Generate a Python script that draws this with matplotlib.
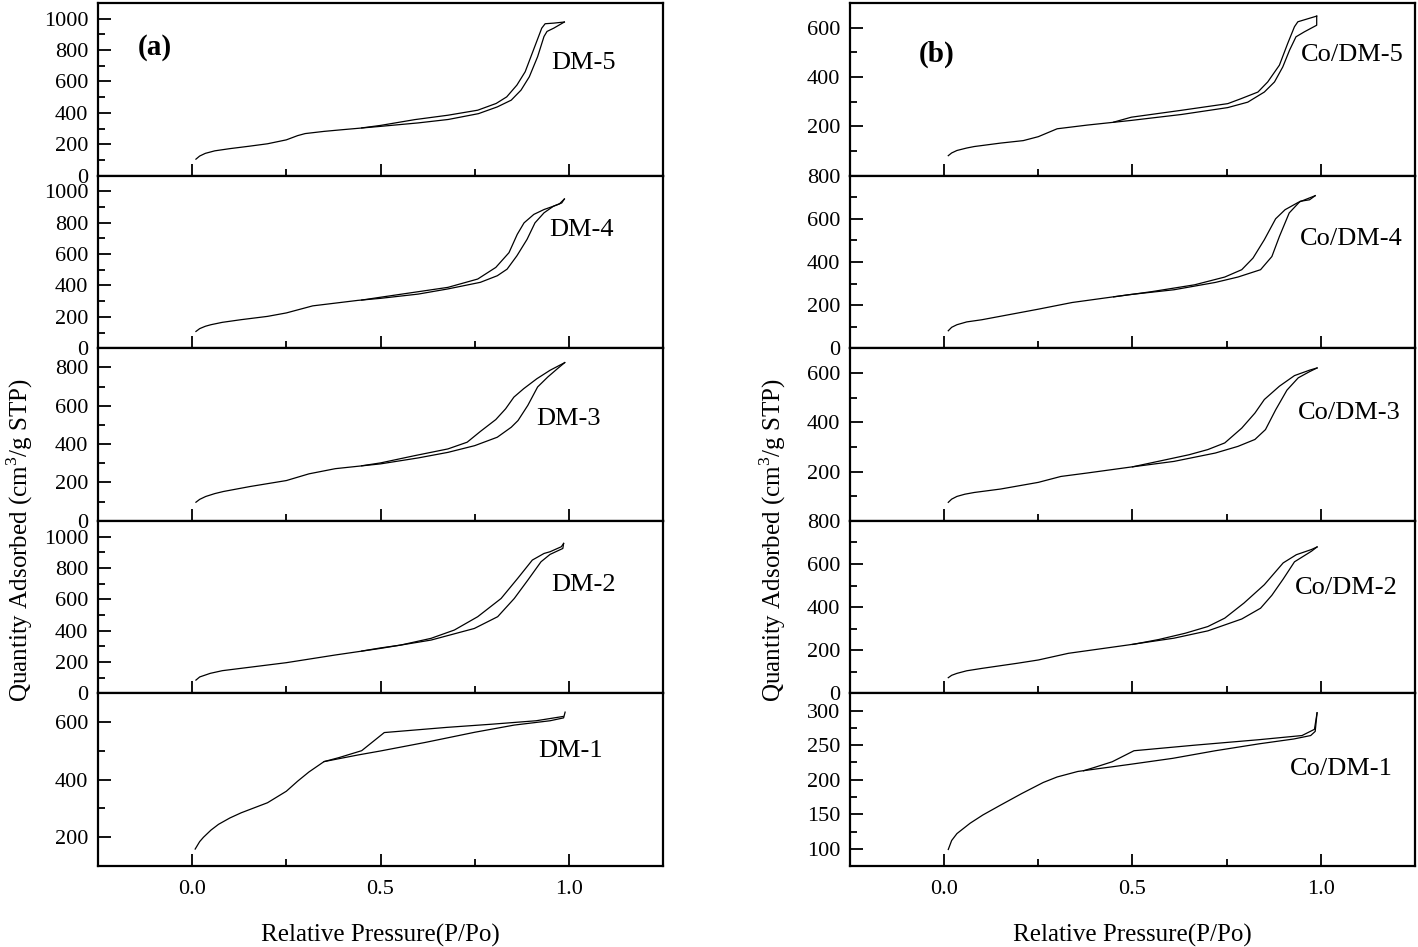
import matplotlib
matplotlib.use("Agg")
import matplotlib.pyplot as plt

plt.rcParams['font.family'] = ['Liberation Serif', 'DejaVu Serif']
plt.rcParams['mathtext.fontset'] = 'custom'
plt.rcParams['mathtext.rm'] = 'Liberation Serif'

# ---- data (P/Po, cm3/g STP) ----
# panel (a)
dm5_ads_x = [0.01, 0.02, 0.035, 0.06, 0.10, 0.15, 0.20, 0.25, 0.28, 0.30, 0.35, 0.40, 0.50, 0.60, 0.68, 0.76, 0.81, 0.847, 0.873, 0.895, 0.917, 0.934, 0.942, 0.96, 0.988]
dm5_ads_y = [105, 125, 142, 158, 172, 187, 203, 228, 255, 268, 282, 293, 314, 336, 358, 395, 438, 481, 545, 630, 758, 887, 919, 940, 979]
dm5_des_x = [0.988, 0.96, 0.937, 0.928, 0.906, 0.884, 0.862, 0.835, 0.807, 0.758, 0.679, 0.591, 0.50, 0.45]
dm5_des_y = [979, 972, 968, 940, 801, 662, 577, 502, 460, 417, 385, 357, 320, 304]

dm4_ads_x = [0.01, 0.02, 0.035, 0.05, 0.08, 0.13, 0.20, 0.25, 0.32, 0.44, 0.50, 0.60, 0.679, 0.765, 0.81, 0.836, 0.862, 0.889, 0.91, 0.934, 0.959, 0.975, 0.988]
dm4_ads_y = [107, 125, 140, 150, 165, 182, 203, 225, 270, 305, 318, 345, 378, 420, 462, 504, 589, 694, 799, 863, 905, 920, 951]
dm4_des_x = [0.988, 0.981, 0.959, 0.934, 0.907, 0.881, 0.863, 0.841, 0.806, 0.758, 0.679, 0.50, 0.45]
dm4_des_y = [951, 926, 905, 884, 853, 799, 726, 609, 515, 441, 388, 325, 307]

dm3_ads_x = [0.01, 0.02, 0.036, 0.06, 0.083, 0.154, 0.25, 0.31, 0.38, 0.50, 0.60, 0.679, 0.75, 0.81, 0.847, 0.865, 0.891, 0.917, 0.944, 0.97, 0.989]
dm3_ads_y = [97, 112, 127, 142, 153, 179, 210, 245, 272, 297, 328, 357, 392, 436, 488, 523, 602, 698, 750, 794, 825]
dm3_des_x = [0.989, 0.95, 0.915, 0.88, 0.854, 0.832, 0.806, 0.765, 0.73, 0.679, 0.591, 0.50, 0.45]
dm3_des_y = [825, 785, 741, 689, 645, 584, 528, 466, 410, 375, 340, 302, 287]

dm2_ads_x = [0.01, 0.02, 0.048, 0.08, 0.13, 0.25, 0.38, 0.50, 0.634, 0.749, 0.811, 0.855, 0.891, 0.926, 0.95, 0.984, 0.986]
dm2_ads_y = [85, 105, 128, 145, 160, 196, 245, 287, 340, 414, 489, 605, 722, 839, 886, 924, 956]
dm2_des_x = [0.986, 0.98, 0.95, 0.934, 0.903, 0.864, 0.82, 0.758, 0.696, 0.634, 0.553, 0.50, 0.45]
dm2_des_y = [956, 935, 903, 892, 850, 733, 605, 489, 404, 351, 308, 290, 270]

dm1_ads_x = [0.008, 0.02, 0.03, 0.05, 0.07, 0.10, 0.13, 0.16, 0.20, 0.25, 0.28, 0.31, 0.35, 0.44, 0.50, 0.62, 0.75, 0.855, 0.95, 0.986, 0.99]
dm1_ads_y = [159, 185, 200, 225, 245, 267, 285, 300, 320, 360, 395, 427, 463, 486, 500, 530, 565, 590, 605, 615, 635]
dm1_des_x = [0.985, 0.913, 0.795, 0.676, 0.51, 0.45, 0.39, 0.35]
dm1_des_y = [620, 605, 593, 582, 564, 501, 477, 463]

# panel (b)
co5_ads_x = [0.011, 0.02, 0.034, 0.06, 0.08, 0.15, 0.21, 0.25, 0.30, 0.38, 0.497, 0.63, 0.753, 0.806, 0.85, 0.877, 0.899, 0.917, 0.934, 0.956, 0.989, 0.989]
co5_ads_y = [81, 92, 102, 112, 118, 132, 142, 158, 190, 205, 224, 248, 276, 298, 339, 380, 441, 509, 563, 583, 610, 647]
co5_des_x = [0.989, 0.939, 0.93, 0.912, 0.89, 0.859, 0.833, 0.788, 0.753, 0.63, 0.497, 0.45]
co5_des_y = [647, 624, 604, 536, 448, 380, 339, 312, 292, 265, 237, 217]

co4_ads_x = [0.011, 0.02, 0.034, 0.06, 0.10, 0.195, 0.25, 0.34, 0.49, 0.61, 0.72, 0.78, 0.84, 0.87, 0.89, 0.916, 0.945, 0.97, 0.985]
co4_ads_y = [81, 97, 109, 122, 132, 163, 181, 212, 248, 271, 305, 330, 364, 425, 518, 627, 681, 688, 707]
co4_des_x = [0.985, 0.94, 0.905, 0.88, 0.85, 0.82, 0.79, 0.745, 0.665, 0.55, 0.45]
co4_des_y = [707, 676, 642, 600, 503, 418, 364, 330, 294, 262, 238]

co3_ads_x = [0.011, 0.02, 0.034, 0.055, 0.08, 0.15, 0.25, 0.31, 0.38, 0.49, 0.61, 0.72, 0.78, 0.825, 0.853, 0.88, 0.91, 0.94, 0.97, 0.99]
co3_ads_y = [75, 88, 99, 108, 115, 129, 156, 180, 194, 217, 241, 275, 302, 330, 370, 450, 530, 580, 605, 620]
co3_des_x = [0.99, 0.97, 0.93, 0.89, 0.85, 0.825, 0.79, 0.745, 0.70, 0.65, 0.58, 0.50]
co3_des_y = [620, 611, 589, 546, 492, 437, 376, 316, 289, 268, 245, 219]

co2_ads_x = [0.011, 0.02, 0.034, 0.06, 0.10, 0.195, 0.25, 0.33, 0.49, 0.61, 0.70, 0.79, 0.84, 0.87, 0.90, 0.93, 0.975, 0.99]
co2_ads_y = [73, 84, 93, 105, 116, 140, 155, 186, 225, 256, 290, 345, 395, 455, 530, 610, 659, 679]
co2_des_x = [0.99, 0.975, 0.935, 0.90, 0.85, 0.796, 0.745, 0.70, 0.64, 0.57, 0.50]
co2_des_y = [679, 667, 643, 605, 504, 419, 349, 310, 279, 250, 227]

co1_ads_x = [0.011, 0.02, 0.034, 0.069, 0.103, 0.149, 0.206, 0.263, 0.30, 0.355, 0.49, 0.607, 0.72, 0.836, 0.928, 0.973, 0.985, 0.99]
co1_ads_y = [99, 112, 122, 137, 149, 163, 180, 196, 204, 212, 222, 231, 242, 252, 259, 264, 270, 297]
co1_des_x = [0.99, 0.983, 0.95, 0.836, 0.664, 0.504, 0.446, 0.40, 0.37]
co1_des_y = [297, 273, 264, 258, 250, 242, 226, 218, 213]

names_a = ['DM-5', 'DM-4', 'DM-3', 'DM-2', 'DM-1']
names_b = ['Co/DM-5', 'Co/DM-4', 'Co/DM-3', 'Co/DM-2', 'Co/DM-1']
curves_a = [(dm5_ads_x, dm5_ads_y, dm5_des_x, dm5_des_y),
            (dm4_ads_x, dm4_ads_y, dm4_des_x, dm4_des_y),
            (dm3_ads_x, dm3_ads_y, dm3_des_x, dm3_des_y),
            (dm2_ads_x, dm2_ads_y, dm2_des_x, dm2_des_y),
            (dm1_ads_x, dm1_ads_y, dm1_des_x, dm1_des_y)]
curves_b = [(co5_ads_x, co5_ads_y, co5_des_x, co5_des_y),
            (co4_ads_x, co4_ads_y, co4_des_x, co4_des_y),
            (co3_ads_x, co3_ads_y, co3_des_x, co3_des_y),
            (co2_ads_x, co2_ads_y, co2_des_x, co2_des_y),
            (co1_ads_x, co1_ads_y, co1_des_x, co1_des_y)]

# y ranges, major ticks, tick labels, minor ticks
ylims_a = [(0, 1100), (0, 1100), (0, 900), (0, 1100), (100, 700)]
yticks_a = [[0, 200, 400, 600, 800, 1000], [0, 200, 400, 600, 800, 1000],
            [0, 200, 400, 600, 800], [0, 200, 400, 600, 800, 1000], [200, 400, 600]]
ylabels_a = [[str(t) for t in tk] for tk in yticks_a]
yminor_a = [[100, 300, 500, 700, 900], [100, 300, 500, 700, 900],
            [100, 300, 500, 700], [100, 300, 500, 700, 900], [300, 500]]

ylims_b = [(0, 700), (0, 800), (0, 700), (0, 800), (75, 325)]
yticks_b = [[0, 200, 400, 600], [0, 200, 400, 600, 800], [0, 200, 400, 600],
            [0, 200, 400, 600, 800], [100, 150, 200, 250, 300]]
ylabels_b = [['', '200', '400', '600'], ['0', '200', '400', '600', '800'],
             ['', '200', '400', '600'], ['0', '200', '400', '600', '800'],
             ['100', '150', '200', '250', '300']]
yminor_b = [[100, 300, 500], [100, 300, 500, 700], [100, 300, 500],
            [100, 300, 500, 700], [125, 175, 225, 275]]

label_pos_a = [(0.859, 0.65), (0.855, 0.685), (0.832, 0.59), (0.86, 0.627), (0.836, 0.665)]
label_pos_b = [(0.889, 0.70), (0.887, 0.63), (0.884, 0.623), (0.879, 0.612), (0.869, 0.56)]

xticks = [0.0, 0.5, 1.0]
xminor = [0.25, 0.75]

fig = plt.figure(figsize=(14.18, 9.47), dpi=100)

def draw_column(left, curves, names, ylims, yticks, ylabels, yminor, label_pos, tag, tag_pos):
    bottom = 0.0855
    h = 0.18226
    w = 0.3985
    axes = []
    for i in range(5):
        ax = fig.add_axes([left, bottom + (4 - i) * h, w, h])
        ax_x, ax_y, de_x, de_y = curves[i]
        ax.plot(ax_x, ax_y, color='black', lw=0.9)
        ax.plot(de_x, de_y, color='black', lw=0.9)
        ax.set_xlim(-0.25, 1.25)
        ax.set_ylim(*ylims[i])
        ax.set_xticks(xticks)
        ax.set_xticks(xminor, minor=True)
        ax.set_yticks(yticks[i], ylabels[i])
        ax.set_yticks(yminor[i], minor=True)
        ax.tick_params(which='both', direction='in', top=False, right=False, width=1.3)
        ax.tick_params(which='major', length=9, labelsize=16, pad=7)
        ax.tick_params(which='minor', length=5)
        if i < 4:
            ax.tick_params(axis='x', labelbottom=False)
        else:
            ax.tick_params(axis='x', pad=10)
        for s in ax.spines.values():
            s.set_linewidth(1.6)
        ax.text(label_pos[i][0], label_pos[i][1], names[i], transform=ax.transAxes,
                ha='center', va='center', fontsize=19)
        axes.append(ax)
    axes[0].text(tag_pos[0], tag_pos[1], tag, transform=axes[0].transAxes,
                 ha='center', va='center', fontsize=21, fontweight='bold')
    axes[4].set_xlabel('Relative Pressure(P/Po)', fontsize=18, labelpad=18)
    return axes

axes_a = draw_column(0.0691, curves_a, names_a, ylims_a, yticks_a, ylabels_a, yminor_a, label_pos_a, '(a)', (0.10, 0.74))
axes_b = draw_column(0.5994, curves_b, names_b, ylims_b, yticks_b, ylabels_b, yminor_b, label_pos_b, '(b)', (0.153, 0.70))

fig.text(0.014, 0.43, r'Quantity Adsorbed (cm$^3$/g STP)', rotation=90, ha='center', va='center', fontsize=18)
fig.text(0.545, 0.43, r'Quantity Adsorbed (cm$^3$/g STP)', rotation=90, ha='center', va='center', fontsize=18)

fig.savefig('out.png', dpi=100)
